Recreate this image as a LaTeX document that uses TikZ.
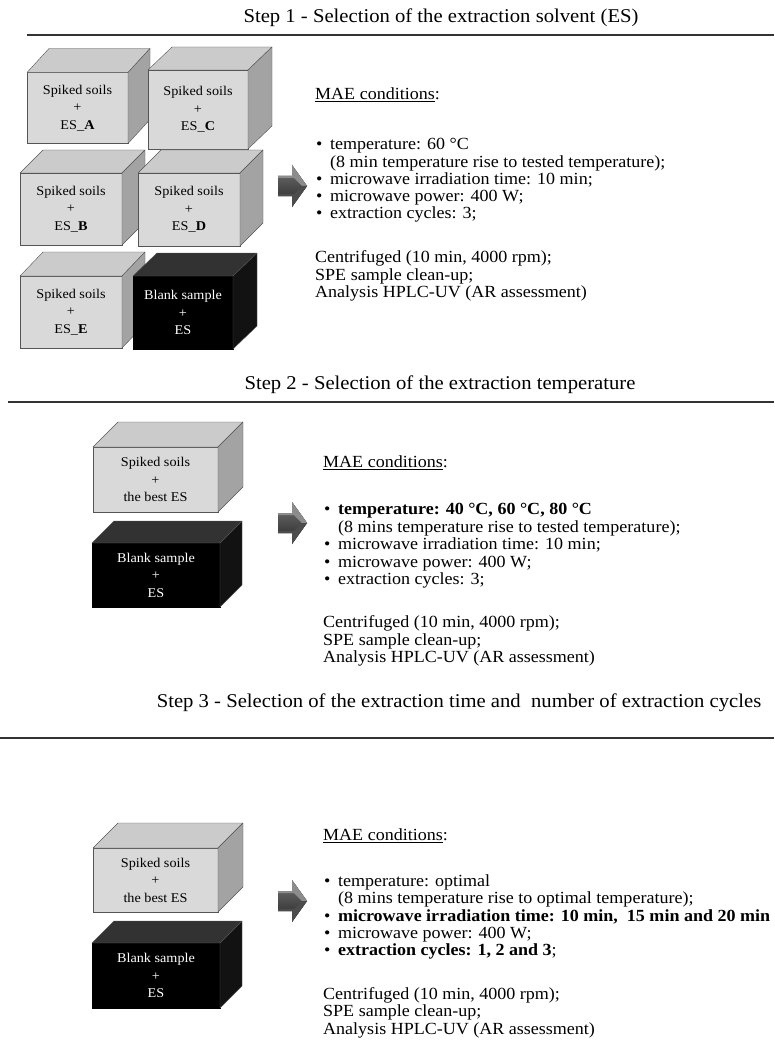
\documentclass[tikz,border=0pt]{standalone}
\usepackage{fontspec}
\setmainfont{Liberation Serif}[FakeStretch=1.06]
\usetikzlibrary{calc}
\definecolor{cfront}{HTML}{D9D9D9}
\definecolor{ctop}{HTML}{CBCBCB}
\definecolor{cside}{HTML}{A3A3A3}
\definecolor{cedge}{HTML}{555555}
\definecolor{btop}{HTML}{323232}
\definecolor{bside}{HTML}{121212}
\definecolor{rulec}{HTML}{333333}
\newcommand{\boxfaces}[5]{%
  \filldraw[draw=cedge, fill=#4, line join=round] (#1.north west) -- ++(#2,#3) -- ($(#1.north east)+(#2,#3)$) -- (#1.north east) -- cycle;
  \filldraw[draw=cedge, fill=#5, line join=round] (#1.north east) -- ++(#2,#3) -- ($(#1.south east)+(#2,#3)$) -- (#1.south east) -- cycle;}
\newcommand{\blockarrow}[1]{%
  \fill[top color=black!55, bottom color=black!85] (#1) ++(0,-10) -- ++(14,0) -- ++(0,-11) -- ++(15,21) -- ++(-15,21) -- ++(0,-11) -- ++(-14,0) -- cycle;
  \fill[black!45] (#1) ++(0,-10) -- ++(14,0) -- ++(0,-11) -- ++(15,21) -- ++(-5,0) -- ++(-8,-8) -- ++(-16,0) -- cycle;
  \fill[black!70] (#1) ++(0,10) -- ++(14,0) -- ++(0,11) -- ++(15,-21) -- ++(-5,0) -- ++(-8,8) -- ++(-16,0) -- cycle;}
\begin{document}
\begin{tikzpicture}[x=1pt,y=-1pt,
  gcube/.style={draw=cedge, fill=cfront, outer sep=0pt, inner sep=0pt, align=center,
    font=\fontsize{13.4}{17.5}\selectfont},
  bcube/.style={draw=black, fill=black, text=white, outer sep=0pt, inner sep=0pt, align=center,
    font=\fontsize{13.4}{17.5}\selectfont},
  title/.style={font=\fontsize{19.5}{24}\selectfont, inner sep=0pt},
  txt/.style={font=\fontsize{17}{17.5}\selectfont, anchor=west, inner sep=0pt, text height=0.7em, text depth=0.2em},
  rulel/.style={draw=rulec, line width=1.5pt}]
\useasboundingbox (0,0) rectangle (774,1043);

% ---------------- Step 1 ----------------
\node[title] (t1) at (441,18) {Step 1 - Selection of the extraction solvent (ES)};
\coordinate (r1a) at (27,35); \coordinate (r1b) at (774,35);
\draw[rulel] (r1a) -- (r1b);

\node[gcube, minimum width=101pt, minimum height=71pt] (cA) at (77.5,108) {Spiked soils\\+\\ES\_\textbf{A}};
\boxfaces{cA}{22}{-24}{ctop}{cside}
\node[gcube, minimum width=100pt, minimum height=79pt] (cC) at (198,109.5) {Spiked soils\\+\\ES\_\textbf{C}};
\boxfaces{cC}{24}{-23}{ctop}{cside}
\node[gcube, minimum width=102pt, minimum height=72pt] (cB) at (71,209) {Spiked soils\\+\\ES\_\textbf{B}};
\boxfaces{cB}{23}{-23}{ctop}{cside}
\node[gcube, minimum width=102pt, minimum height=73pt] (cD) at (189,209.5) {Spiked soils\\+\\ES\_\textbf{D}};
\boxfaces{cD}{23}{-23}{ctop}{cside}
\node[gcube, minimum width=102pt, minimum height=72pt] (cE) at (71,312) {Spiked soils\\+\\ES\_\textbf{E}};
\boxfaces{cE}{23}{-24}{ctop}{cside}
\node[bcube, minimum width=100pt, minimum height=73pt] (cK1) at (183,312.5) {Blank sample\\+\\ES};
\boxfaces{cK1}{24}{-23}{btop}{bside}

\coordinate (a1) at (278,186);
\blockarrow{a1}

\node[txt] (m1) at (315,97) {\underline{MAE conditions}:};
\node[txt] (b11) at (316,147) {\textbullet\hspace{7.5pt}temperature: 60 °C};
\node[txt] (b12) at (330,165) {(8 min temperature rise to tested temperature);};
\node[txt] (b13) at (316,182) {\textbullet\hspace{7.5pt}microwave irradiation time: 10 min;};
\node[txt] (b14) at (316,199) {\textbullet\hspace{7.5pt}microwave power: 400 W;};
\node[txt] (b15) at (316,216) {\textbullet\hspace{7.5pt}extraction cycles: 3;};
\node[txt] (p11) at (315,260) {Centrifuged (10 min, 4000 rpm);};
\node[txt] (p12) at (315,278) {SPE sample clean-up;};
\node[txt] (p13) at (315,295) {Analysis HPLC-UV (AR assessment)};

% ---------------- Step 2 ----------------
\node[title] (t2) at (440,385) {Step 2 - Selection of the extraction temperature};
\coordinate (r2a) at (8,402); \coordinate (r2b) at (774,402);
\draw[rulel] (r2a) -- (r2b);

\node[gcube, minimum width=125pt, minimum height=65pt] (cS2) at (155.5,479.5) {Spiked soils\\+\\the best ES};
\boxfaces{cS2}{25}{-25}{ctop}{cside}
\node[bcube, minimum width=128pt, minimum height=64pt] (cK2) at (156,575) {Blank sample\\+\\ES};
\boxfaces{cK2}{22}{-22}{btop}{bside}

\coordinate (a2) at (278,523);
\blockarrow{a2}

\node[txt] (m2) at (323,465) {\underline{MAE conditions}:};
\node[txt] (b21) at (324,512) {\textbullet\hspace{7.5pt}\textbf{temperature: 40 °C, 60 °C, 80 °C}};
\node[txt] (b22) at (338,530) {(8 mins temperature rise to tested temperature);};
\node[txt] (b23) at (324,547) {\textbullet\hspace{7.5pt}microwave irradiation time: 10 min;};
\node[txt] (b24) at (324,565) {\textbullet\hspace{7.5pt}microwave power: 400 W;};
\node[txt] (b25) at (324,582) {\textbullet\hspace{7.5pt}extraction cycles: 3;};
\node[txt] (p21) at (323,625) {Centrifuged (10 min, 4000 rpm);};
\node[txt] (p22) at (323,643) {SPE sample clean-up;};
\node[txt] (p23) at (323,660) {Analysis HPLC-UV (AR assessment)};

% ---------------- Step 3 ----------------
\node[title] (t3) at (459,703) {Step 3 - Selection of the extraction time and\ \ number of extraction cycles};
\coordinate (r3a) at (0,738); \coordinate (r3b) at (774,738);
\draw[rulel] (r3a) -- (r3b);

\node[gcube, minimum width=125pt, minimum height=64pt] (cS3) at (155.5,880) {Spiked soils\\+\\the best ES};
\boxfaces{cS3}{25}{-25}{ctop}{cside}
\node[bcube, minimum width=128pt, minimum height=65pt] (cK3) at (156,975.5) {Blank sample\\+\\ES};
\boxfaces{cK3}{22}{-22}{btop}{bside}

\coordinate (a3) at (278,901);
\blockarrow{a3}

\node[txt] (m3) at (323,838) {\underline{MAE conditions}:};
\node[txt] (b31) at (324,884) {\textbullet\hspace{7.5pt}temperature: optimal};
\node[txt] (b32) at (338,901) {(8 mins temperature rise to optimal temperature);};
\node[txt] (b33) at (324,919) {\textbullet\hspace{7.5pt}\textbf{microwave irradiation time: 10 min,\ \ 15 min and 20 min}};
\node[txt] (b34) at (324,936) {\textbullet\hspace{7.5pt}microwave power: 400 W;};
\node[txt] (b35) at (324,953) {\textbullet\hspace{7.5pt}\textbf{extraction cycles: 1, 2 and 3};};
\node[txt] (p31) at (323,997) {Centrifuged (10 min, 4000 rpm);};
\node[txt] (p32) at (323,1014) {SPE sample clean-up;};
\node[txt] (p33) at (323,1032) {Analysis HPLC-UV (AR assessment)};
\end{tikzpicture}
\end{document}
